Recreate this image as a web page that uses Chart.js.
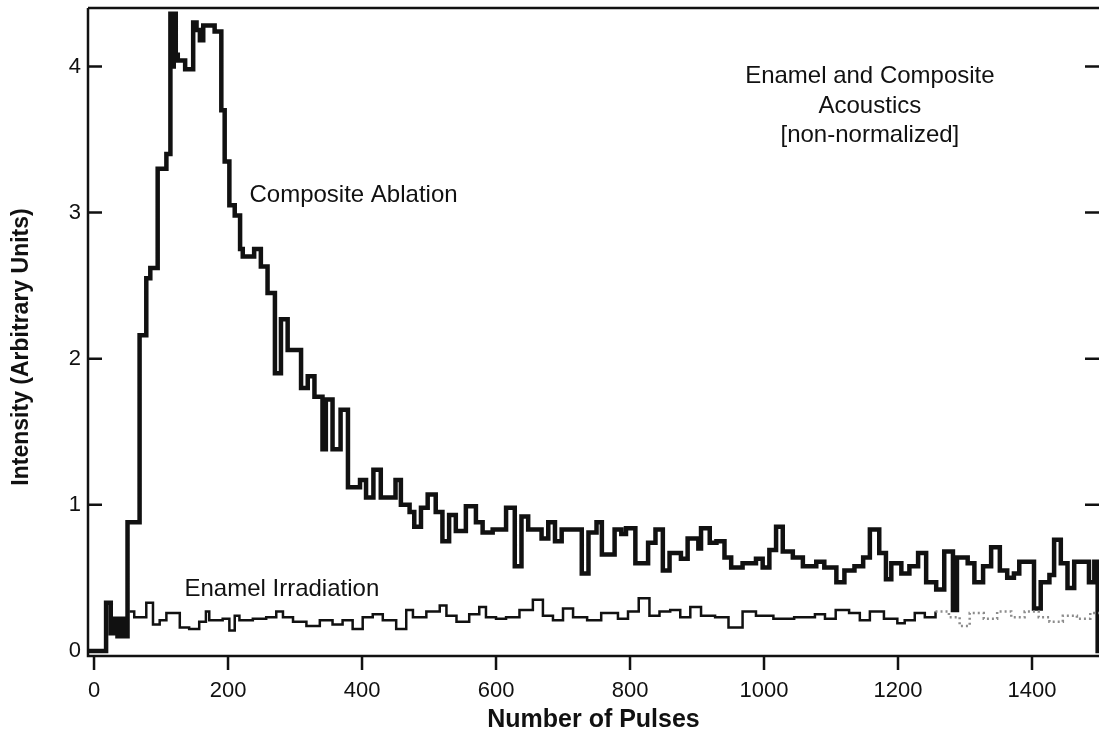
<!DOCTYPE html>
<html>
<head>
<meta charset="utf-8">
<title>Enamel and Composite Acoustics</title>
<script src="https://cdn.jsdelivr.net/npm/chart.js@4.4.1/dist/chart.umd.min.js"></script>
<style>
    html, body { margin: 0; padding: 0; background: #fff; }
    canvas { display: block; }
</style>
</head>
<body>
<canvas id="acoustics" width="1100" height="735"></canvas>
<script>
// step data: each value holds until the next pulse number
const compositePulses = [-9, 18, 25, 30, 35, 40, 45, 50, 68, 78, 84, 95, 108, 114, 117, 119, 122, 125, 136, 148,
    153, 158, 163, 180, 190, 195, 202, 210, 218, 222, 239, 249, 259, 270, 279, 289, 309, 319, 329, 341,
    346, 356, 368, 379, 397, 406, 417, 428, 450, 458, 471, 478, 488, 498, 510, 520, 530, 540, 555, 570,
    580, 595, 615, 628, 638, 648, 668, 678, 688, 698, 728, 738, 750, 758, 777, 787, 794, 808, 827, 838,
    849, 859, 876, 886, 902, 906, 919, 929, 941, 951, 968, 988, 998, 1008, 1018, 1028, 1043, 1058, 1068, 1078,
    1090, 1108, 1120, 1135, 1148, 1158, 1172, 1182, 1190, 1205, 1217, 1230, 1242, 1257, 1269, 1282, 1288, 1304, 1314, 1327,
    1339, 1352, 1363, 1373, 1381, 1403, 1413, 1426, 1433, 1443, 1453, 1463, 1485, 1493, 1498, 1500];
const compositeIntensity = [0, 0.33, 0.12, 0.22, 0.10, 0.22, 0.10, 0.88, 2.16, 2.55, 2.62, 3.30, 3.40, 4.36, 4.00, 4.36, 4.08, 4.04, 3.98, 4.30,
    4.25, 4.18, 4.28, 4.24, 3.70, 3.35, 3.05, 2.98, 2.75, 2.70, 2.75, 2.63, 2.45, 1.90, 2.27, 2.06, 1.80, 1.88, 1.74, 1.38,
    1.72, 1.38, 1.65, 1.12, 1.17, 1.05, 1.24, 1.05, 1.17, 1.00, 0.95, 0.85, 0.98, 1.07, 0.95, 0.75, 0.93, 0.82, 0.99, 0.88,
    0.81, 0.83, 0.98, 0.58, 0.92, 0.83, 0.77, 0.88, 0.75, 0.83, 0.53, 0.81, 0.88, 0.66, 0.83, 0.80, 0.84, 0.60, 0.74, 0.83,
    0.55, 0.67, 0.63, 0.77, 0.70, 0.84, 0.74, 0.75, 0.64, 0.57, 0.60, 0.63, 0.57, 0.69, 0.85, 0.68, 0.64, 0.58, 0.58, 0.61,
    0.57, 0.47, 0.55, 0.58, 0.64, 0.83, 0.67, 0.49, 0.60, 0.53, 0.58, 0.67, 0.47, 0.42, 0.68, 0.28, 0.64, 0.60, 0.47, 0.58,
    0.71, 0.55, 0.50, 0.53, 0.61, 0.29, 0.47, 0.52, 0.76, 0.60, 0.43, 0.61, 0.47, 0.61, 0, 0];

const enamelPulses = [53, 60, 78, 88, 98, 108, 128, 142, 157, 167, 172, 192, 202, 210, 217, 237, 257, 272, 282, 297,
    317, 337, 356, 371, 386, 401, 416, 431, 451, 466, 476, 496, 516, 526, 541, 560, 575, 585, 600, 615,
    635, 655, 670, 685, 700, 715, 736, 757, 782, 797, 813, 829, 844, 860, 875, 890, 906, 927, 947, 968,
    988, 1014, 1045, 1076, 1091, 1107, 1127, 1143, 1158, 1179, 1199, 1210, 1225, 1240, 1256, 1276, 1292, 1307, 1328, 1348,
    1369, 1389, 1410, 1426, 1446, 1467, 1487, 1500];
const enamelIntensity = [0.27, 0.23, 0.33, 0.18, 0.21, 0.26, 0.16, 0.15, 0.20, 0.27, 0.21, 0.22, 0.14, 0.24, 0.21, 0.22, 0.23, 0.27, 0.23, 0.20,
    0.17, 0.21, 0.18, 0.21, 0.15, 0.23, 0.25, 0.21, 0.15, 0.28, 0.23, 0.27, 0.31, 0.24, 0.20, 0.25, 0.30, 0.23, 0.22, 0.23,
    0.28, 0.35, 0.24, 0.21, 0.29, 0.23, 0.21, 0.26, 0.22, 0.27, 0.36, 0.24, 0.27, 0.28, 0.23, 0.30, 0.24, 0.23, 0.16, 0.27,
    0.24, 0.22, 0.23, 0.25, 0.22, 0.28, 0.26, 0.21, 0.27, 0.22, 0.19, 0.21, 0.26, 0.23, 0.27, 0.23, 0.17, 0.26, 0.22, 0.27,
    0.23, 0.27, 0.23, 0.20, 0.24, 0.22, 0.26, 0.26];

const pulseTicks = [0, 200, 400, 600, 800, 1000, 1200, 1400];
const intensityTicks = [0, 1, 2, 3, 4];

// enamel trace fades to a faint dotted line near the end of the record
const fadeFrom = 1250;

const ink = '#111';
const yTitle = 'Intensity (Arbitrary Units)';

// text placed on the plot in data coordinates
const notes = [
    { text: 'Composite Ablation', x: 232, y: 3.12, align: 'left' },
    { text: 'Enamel Irradiation', x: 135, y: 0.42, align: 'left' },
    { text: 'Enamel and Composite', x: 1158, y: 3.93, align: 'center' },
    { text: 'Acoustics', x: 1158, y: 3.73, align: 'center' },
    { text: '[non-normalized]', x: 1158, y: 3.53, align: 'center' }
];

const framePlugin = {
    id: 'frame',
    afterDatasetsDraw(chart) {
        const { ctx, chartArea: a, scales: { x, y } } = chart;
        ctx.save();
        ctx.strokeStyle = ink;
        ctx.lineWidth = 2.5;
        ctx.lineCap = 'butt';
        ctx.beginPath();
        ctx.moveTo(a.left, a.top);
        ctx.lineTo(a.right, a.top);
        ctx.moveTo(a.left, a.top);
        ctx.lineTo(a.left, a.bottom);
        ctx.lineTo(a.right, a.bottom);
        pulseTicks.forEach(v => {
            const px = x.getPixelForValue(v);
            ctx.moveTo(px, a.bottom);
            ctx.lineTo(px, a.bottom + 14);
        });
        intensityTicks.forEach(v => {
            const py = y.getPixelForValue(v);
            ctx.moveTo(a.left, py);
            ctx.lineTo(a.left + 14, py);
            if (v > 0) {
                ctx.moveTo(a.right - 14, py);
                ctx.lineTo(a.right, py);
            }
        });
        ctx.stroke();

        ctx.fillStyle = ink;
        ctx.font = '24px "Liberation Sans", Arial, sans-serif';
        ctx.textBaseline = 'middle';
        notes.forEach(n => {
            ctx.textAlign = n.align;
            ctx.fillText(n.text, x.getPixelForValue(n.x), y.getPixelForValue(n.y));
        });

        // y title sits a little below the middle of the axis in the original
        ctx.translate(22, y.getPixelForValue(2.08));
        ctx.rotate(-Math.PI / 2);
        ctx.textAlign = 'center';
        ctx.font = 'bold 23px "Liberation Sans", Arial, sans-serif';
        ctx.fillText(yTitle, 0, 0);
        ctx.restore();
    }
};

Chart.defaults.font.family = '"Liberation Sans", Arial, Helvetica, sans-serif';
Chart.defaults.color = ink;

const toPoints = (xs, ys) => xs.map((v, i) => ({ x: v, y: ys[i] }));

function createAcousticsChart(ctx) {
    return new Chart(ctx, {
        type: 'line',
        data: {
            datasets: [
                {
                    label: 'Enamel Irradiation',
                    data: toPoints(enamelPulses, enamelIntensity),
                    stepped: true,
                    borderColor: ink,
                    borderWidth: 2.5,
                    pointRadius: 0,
                    segment: {
                        borderColor: c => c.p0.parsed.x >= fadeFrom ? '#8c8c8c' : ink,
                        borderDash: c => c.p0.parsed.x >= fadeFrom ? [2, 3] : []
                    }
                },
                {
                    label: 'Composite Ablation',
                    data: toPoints(compositePulses, compositeIntensity),
                    stepped: true,
                    borderColor: ink,
                    borderWidth: 4.5,
                    pointRadius: 0
                }
            ]
        },
        options: {
            responsive: false,
            animation: false,
            devicePixelRatio: 1,
            layout: { padding: { top: 8, right: 1, left: 0, bottom: 0 } },
            plugins: {
                legend: { display: false },
                tooltip: { enabled: false }
            },
            scales: {
                x: {
                    type: 'linear',
                    min: -9,
                    max: 1500,
                    afterBuildTicks: s => { s.ticks = pulseTicks.map(v => ({ value: v })); },
                    afterFit: s => { s.height = 79; s.paddingLeft = 0; s.paddingRight = 0; },
                    grid: { display: false, drawTicks: false },
                    border: { display: false },
                    ticks: {
                        font: { size: 22 },
                        padding: 22,
                        maxRotation: 0,
                        autoSkip: false,
                        callback: v => String(v)
                    },
                    title: {
                        display: true,
                        text: 'Number of Pulses',
                        font: { size: 25, weight: 'bold' },
                        padding: { top: 0, bottom: 0 }
                    }
                },
                y: {
                    min: -0.035,
                    max: 4.4,
                    afterBuildTicks: s => { s.ticks = intensityTicks.map(v => ({ value: v })); },
                    afterFit: s => { s.width = 88; s.paddingTop = 0; s.paddingBottom = 0; },
                    grid: { display: false, drawTicks: false },
                    border: { display: false },
                    ticks: { font: { size: 22 }, padding: 7, callback: v => String(v) },
                    title: { display: false }
                }
            }
        },
        plugins: [framePlugin]
    });
}

const acousticsChart = createAcousticsChart(document.getElementById('acoustics'));
</script>
</body>
</html>
